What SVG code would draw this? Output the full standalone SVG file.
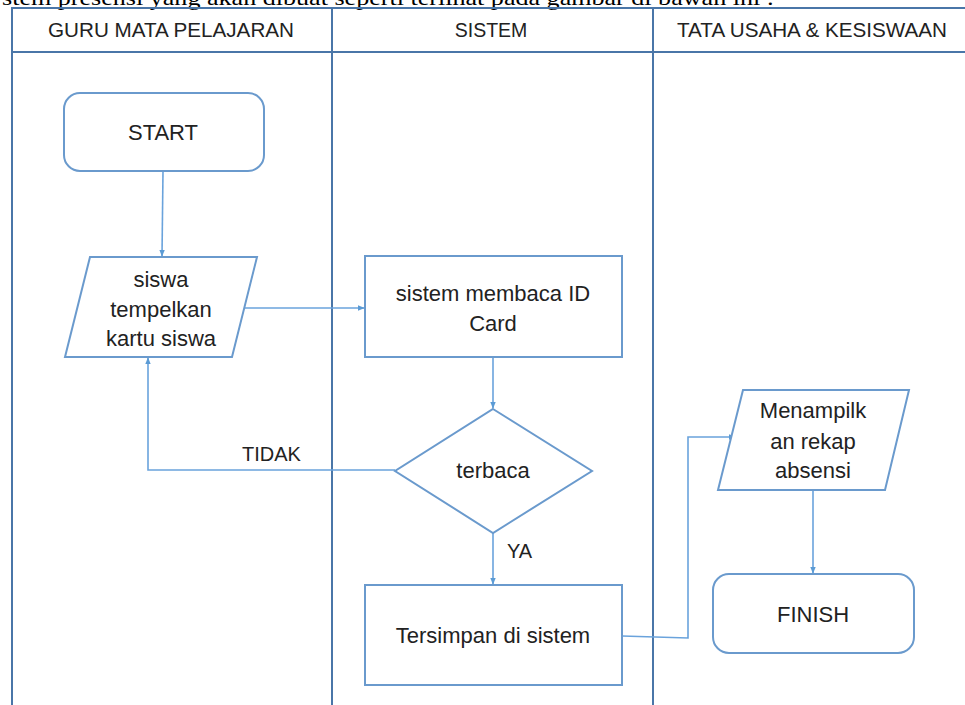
<svg xmlns="http://www.w3.org/2000/svg" width="965" height="705" viewBox="0 0 965 705">
<defs>
<style>
.lane{fill:none;stroke:#4a76a8;stroke-width:2}
.node{fill:#ffffff;stroke:#6a9acd;stroke-width:2}
.conn{fill:none;stroke:#6aa3dc;stroke-width:1.6}
.t{font-family:"Liberation Sans",Arial,sans-serif;font-size:22px;fill:#222222;text-anchor:middle}
.h{font-family:"Liberation Sans",Arial,sans-serif;font-size:19.5px;fill:#222222;text-anchor:middle}
.lbl{font-family:"Liberation Sans",Arial,sans-serif;font-size:20px;fill:#222222}
</style>
<marker id="arr" viewBox="0 0 10 10" refX="9" refY="5" markerWidth="7" markerHeight="7" orient="auto" markerUnits="userSpaceOnUse">
<path d="M0,1 L10,5 L0,9 Z" fill="#5b9bd5"/>
</marker>
</defs>
<rect width="965" height="705" fill="#ffffff"/>
<text x="2" y="5" font-family="'Liberation Serif','Times New Roman',serif" font-size="22" fill="#000" textLength="772" lengthAdjust="spacingAndGlyphs">stem presensi yang akan dibuat seperti terlihat pada gambar di bawah ini :</text>
<g id="swimlanes">
<path class="lane" d="M975,8 H12 V710"/>
<path class="lane" d="M12,52 H975"/>
<path class="lane" d="M332,8 V710"/>
<path class="lane" d="M653,8 V710"/>
<text class="h" x="171" y="37" textLength="246" lengthAdjust="spacingAndGlyphs">GURU MATA PELAJARAN</text>
<text class="h" x="491" y="37">SISTEM</text>
<text class="h" x="812" y="37" textLength="270" lengthAdjust="spacingAndGlyphs">TATA USAHA &amp; KESISWAAN</text>
</g>
<g id="connectors">
<path class="conn" d="M163,171 L162,256" marker-end="url(#arr)"/>
<path class="conn" d="M243,308 H364" marker-end="url(#arr)"/>
<path class="conn" d="M493,357 V408" marker-end="url(#arr)"/>
<path class="conn" d="M395,470 H148 V358" marker-end="url(#arr)"/>
<path class="conn" d="M493,533 V584" marker-end="url(#arr)"/>
<path class="conn" d="M622,636 L688,638 V437 H735" marker-end="url(#arr)"/>
<path class="conn" d="M813,490 V573" marker-end="url(#arr)"/>
<text class="lbl" x="242" y="461">TIDAK</text>
<text class="lbl" x="507" y="558">YA</text>
</g>
<g id="start">
<rect class="node" x="64" y="93" width="200" height="78" rx="16"/>
<text class="t" x="163" y="140">START</text>
</g>
<g id="siswa">
<polygon class="node" points="90,257 257,257 232,357 65,357"/>
<text class="t" x="161" y="287">siswa</text>
<text class="t" x="161" y="317">tempelkan</text>
<text class="t" x="161" y="346">kartu siswa</text>
</g>
<g id="membaca">
<rect class="node" x="365" y="256" width="257" height="101"/>
<text class="t" x="493" y="301">sistem membaca ID</text>
<text class="t" x="493" y="331">Card</text>
</g>
<g id="terbaca">
<polygon class="node" points="493,409 592,471 493,533 395,471"/>
<text class="t" x="493" y="478">terbaca</text>
</g>
<g id="tersimpan">
<rect class="node" x="365" y="585" width="257" height="100"/>
<text class="t" x="493" y="643">Tersimpan di sistem</text>
</g>
<g id="menampilkan">
<polygon class="node" points="743,390 909,390 885,490 718,490"/>
<text class="t" x="813" y="418">Menampilk</text>
<text class="t" x="813" y="449">an rekap</text>
<text class="t" x="813" y="478">absensi</text>
</g>
<g id="finish">
<rect class="node" x="713" y="574" width="201" height="79" rx="16"/>
<text class="t" x="813" y="622">FINISH</text>
</g>
</svg>
